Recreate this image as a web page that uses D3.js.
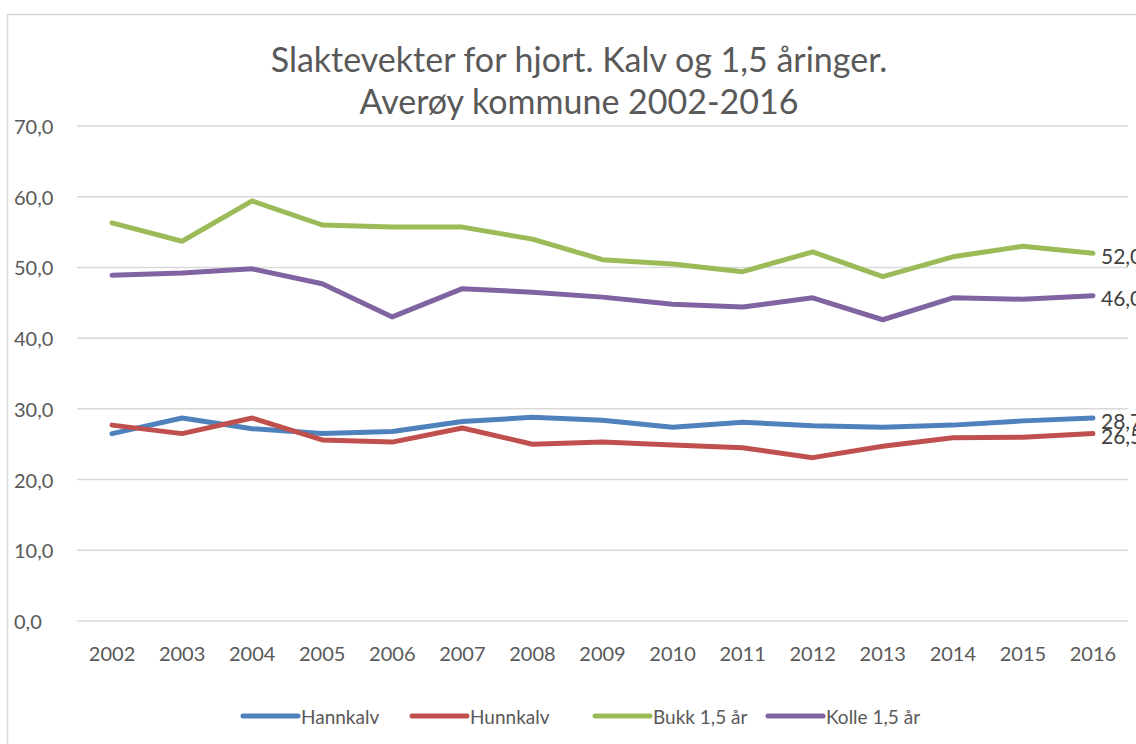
<!DOCTYPE html>
<html>
<head>
<meta charset="utf-8">
<script src="https://cdn.jsdelivr.net/npm/d3@7"></script>
<style>
  body { margin: 0; background: #fff; }
  svg { display: block; font-family: Lato, "Open Sans", sans-serif; }
</style>
</head>
<body>
<svg id="chart" width="1136" height="744"></svg>
<script>
// data
const years = ["2002","2003","2004","2005","2006","2007","2008","2009","2010","2011","2012","2013","2014","2015","2016"];
const hannkalv = [26.5, 28.7, 27.2, 26.5, 26.8, 28.2, 28.8, 28.4, 27.4, 28.1, 27.6, 27.4, 27.7, 28.3, 28.7];
const hunnkalv = [27.7, 26.5, 28.7, 25.6, 25.3, 27.3, 25.0, 25.3, 24.9, 24.5, 23.1, 24.7, 25.9, 26.0, 26.5];
const bukk = [56.3, 53.7, 59.4, 56.0, 55.7, 55.7, 54.0, 51.1, 50.5, 49.4, 52.2, 48.7, 51.5, 53.0, 52.0];
const kolle = [48.9, 49.2, 49.8, 47.7, 43.0, 47.0, 46.5, 45.8, 44.8, 44.4, 45.7, 42.6, 45.7, 45.5, 46.0];
const yTicks = [0, 10, 20, 30, 40, 50, 60, 70];

const series = [
  { name: "Hannkalv", values: hannkalv, color: "#4F81BD" },
  { name: "Hunnkalv", values: hunnkalv, color: "#C0504D" },
  { name: "Bukk 1,5 år", values: bukk, color: "#9BBB59" },
  { name: "Kolle 1,5 år", values: kolle, color: "#8064A2" }
];

const svg = d3.select("#chart");
const fmt = (v) => v.toFixed(1).replace(".", ",");

// ytre ramme (går ut over kanten som i originalen)
svg.append("rect")
  .attr("x", 7.5).attr("y", 14.5)
  .attr("width", 1200).attr("height", 800)
  .attr("fill", "none")
  .attr("stroke", "#d9d9d9")
  .attr("stroke-width", 1.5);

const plot = { left: 77, right: 1128, top: 126, bottom: 621 };

const x = d3.scaleBand().domain(years).range([plot.left, plot.right]);
const y = d3.scaleLinear().domain([0, 70]).range([plot.bottom, plot.top]);
const cx = (yr) => x(yr) + x.bandwidth() / 2;

// rutenett
svg.append("g")
  .selectAll("line")
  .data(yTicks)
  .join("line")
  .attr("x1", plot.left).attr("x2", plot.right)
  .attr("y1", (d) => y(d)).attr("y2", (d) => y(d))
  .attr("stroke", "#d9d9d9")
  .attr("stroke-width", 1.5);

// y-akse
svg.append("g")
  .selectAll("text")
  .data(yTicks)
  .join("text")
  .attr("x", 14)
  .attr("y", (d) => y(d))
  .attr("dominant-baseline", "central")
  .attr("fill", "#595959")
  .style("font-size", "20px")
  .text(fmt);

// x-akse
svg.append("g")
  .selectAll("text")
  .data(years)
  .join("text")
  .attr("x", (d) => cx(d))
  .attr("y", 653)
  .attr("text-anchor", "middle")
  .attr("dominant-baseline", "central")
  .attr("fill", "#595959")
  .style("font-size", "20px")
  .text((d) => d);

// linjer
const line = d3.line()
  .x((d, i) => cx(years[i]))
  .y((d) => y(d));

svg.append("g")
  .selectAll("path")
  .data(series)
  .join("path")
  .attr("d", (d) => line(d.values))
  .attr("fill", "none")
  .attr("stroke", (d) => d.color)
  .attr("stroke-width", 5)
  .attr("stroke-linecap", "round")
  .attr("stroke-linejoin", "round");

// verdier ved siste punkt
svg.append("g")
  .selectAll("text")
  .data(series)
  .join("text")
  .attr("x", cx(years[years.length - 1]) + 8)
  .attr("y", (d) => y(d.values[d.values.length - 1]) + 2)
  .attr("dominant-baseline", "central")
  .attr("fill", "#404040")
  .style("font-size", "21px")
  .text((d) => fmt(d.values[d.values.length - 1]));

// tittel
const title = svg.append("text")
  .attr("x", 579)
  .attr("text-anchor", "middle")
  .attr("fill", "#595959")
  .style("font-size", "34px");
title.append("tspan").attr("x", 579).attr("y", 72).text("Slaktevekter for hjort. Kalv og 1,5 åringer.");
title.append("tspan").attr("x", 579).attr("y", 114).text("Averøy kommune 2002-2016");

// tegnforklaring
const legendX = [243, 412, 595, 768];
const legend = svg.append("g")
  .selectAll("g")
  .data(series)
  .join("g")
  .attr("transform", (d, i) => `translate(${legendX[i]},716)`);

legend.append("line")
  .attr("x1", 0).attr("x2", 55)
  .attr("stroke", (d) => d.color)
  .attr("stroke-width", 5)
  .attr("stroke-linecap", "round");

legend.append("text")
  .attr("x", 58)
  .attr("dominant-baseline", "central")
  .attr("fill", "#595959")
  .style("font-size", "19px")
  .text((d) => d.name);
</script>
</body>
</html>
